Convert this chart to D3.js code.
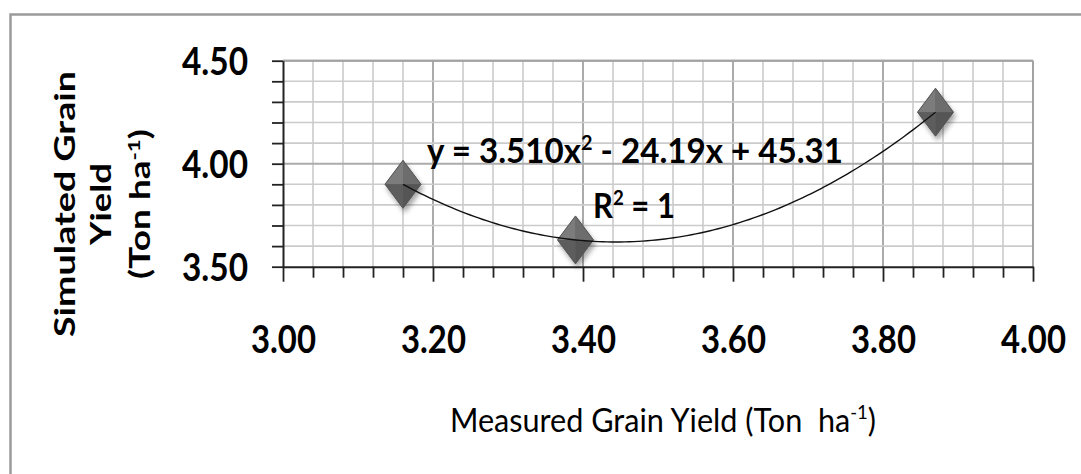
<!DOCTYPE html>
<html>
<head>
<meta charset="utf-8">
<script src="https://cdn.jsdelivr.net/npm/d3@7"></script>
<style>
  html, body { margin: 0; padding: 0; background: #fff; }
  svg { display: block; }
  text { font-family: Lato, "Open Sans", "Noto Sans", sans-serif; fill: #000; }
</style>
</head>
<body>
<svg id="chart" width="1081" height="474"></svg>
<script>
// ---- data ----
const measured = [3.16, 3.39, 3.87];          // x: Measured Grain Yield
const simulated = [3.90, 3.63, 4.25];         // y: Simulated Grain Yield
const xTicks = [3.0, 3.2, 3.4, 3.6, 3.8, 4.0];
const xTickLabels = ["3.00", "3.20", "3.40", "3.60", "3.80", "4.00"];
const yTicks = [3.5, 4.0, 4.5];
const yTickLabels = ["3.50", "4.00", "4.50"];
const xMinorStep = 0.04;
const yMinorStep = 0.1;
const equationText = ["y = 3.510x", "2", " - 24.19x + 45.31"];
const r2Text = ["R", "2", " = 1"];
const xTitle = ["Measured Grain Yield (Ton \u00a0ha", "-1", ")"];
const yTitleLines = ["Simulated Grain", "Yield", "(Ton ha"];

// ---- layout ----
const svg = d3.select("#chart");
const x = d3.scaleLinear().domain([3.0, 4.0]).range([283, 1033]);
const y = d3.scaleLinear().domain([3.5, 4.5]).range([266.7, 60.7]);
const [x0, x1] = x.range();
const [yb, yt] = y.range();

const defs = svg.append("defs");
const flt = defs.append("filter").attr("id", "shadow")
  .attr("x", "-50%").attr("y", "-50%").attr("width", "200%").attr("height", "200%");
flt.append("feDropShadow").attr("dx", 2).attr("dy", 4).attr("stdDeviation", 2.5)
  .attr("flood-color", "#000").attr("flood-opacity", 0.35);

// outer chart border (cropped on right / bottom)
svg.append("rect").attr("x", 10.5).attr("y", 14.5).attr("width", 1100).attr("height", 500)
  .attr("fill", "none").attr("stroke", "#9a9a9a").attr("stroke-width", 2.5);

// gridlines
const xMinor = d3.range(0, 26).map(i => +(3.0 + i * xMinorStep).toFixed(2));
const yMinor = d3.range(0, 11).map(i => +(3.5 + i * yMinorStep).toFixed(2));
const isMajorX = v => xTicks.some(t => Math.abs(t - v) < 1e-6);
const isMajorY = v => yTicks.some(t => Math.abs(t - v) < 1e-6);

const grid = svg.append("g");
grid.selectAll("line.gx").data(xMinor.filter(v => v > 3.0)).join("line")
  .attr("x1", d => x(d)).attr("x2", d => x(d)).attr("y1", yt).attr("y2", yb)
  .attr("stroke", d => isMajorX(d) ? "#ababab" : "#cbcbcb")
  .attr("stroke-width", d => isMajorX(d) ? 2 : 1.6);
grid.selectAll("line.gy").data(yMinor.filter(v => v > 3.5)).join("line")
  .attr("x1", x0).attr("x2", x1).attr("y1", d => y(d)).attr("y2", d => y(d))
  .attr("stroke", d => isMajorY(d) ? "#ababab" : "#cbcbcb")
  .attr("stroke-width", d => isMajorY(d) ? 2 : 1.6);
// plot area top / right border
grid.append("line").attr("x1", x0).attr("x2", x1).attr("y1", yt).attr("y2", yt)
  .attr("stroke", "#a3a3a3").attr("stroke-width", 2);
grid.append("line").attr("x1", x1).attr("x2", x1).attr("y1", yt).attr("y2", yb)
  .attr("stroke", "#a3a3a3").attr("stroke-width", 2);

// axes lines and ticks
const yAxisTicks = d3.axisLeft(y).tickValues(yMinor).tickSize(11).tickFormat("").tickSizeOuter(0);
const gY = svg.append("g").attr("transform", `translate(${x0},0)`).call(yAxisTicks);
gY.select(".domain").attr("stroke", "#222").attr("stroke-width", 2);
gY.selectAll(".tick line").attr("stroke", "#222").attr("stroke-width", 1.8);

const xAxisTicks = d3.axisBottom(x).tickValues(xMinor).tickSize(11).tickFormat("").tickSizeOuter(0);
const gX = svg.append("g").attr("transform", `translate(0,${yb})`).call(xAxisTicks);
gX.select(".domain").attr("stroke", "#222").attr("stroke-width", 2);
gX.selectAll(".tick line").attr("stroke", "#222").attr("stroke-width", 1.8)
  .attr("y2", d => isMajorX(d) ? 15 : 11);

// tick labels
const yLab = d3.axisLeft(y).tickValues(yTicks).tickSize(0).tickPadding(35)
  .tickFormat((d, i) => yTickLabels[i]);
const gYL = svg.append("g").attr("transform", `translate(${x0},0)`).call(yLab);
gYL.select(".domain").remove();
gYL.selectAll("text").attr("font-size", 39).attr("font-weight", "bold")
  .attr("font-family", "Lato, sans-serif").attr("fill", "#000")
  .attr("textLength", 66).attr("lengthAdjust", "spacingAndGlyphs").attr("dy", "0.36em");

const xLab = d3.axisBottom(x).tickValues(xTicks).tickSize(0).tickPadding(59)
  .tickFormat((d, i) => xTickLabels[i]);
const gXL = svg.append("g").attr("transform", `translate(0,${yb})`).call(xLab);
gXL.select(".domain").remove();
gXL.selectAll("text").attr("font-size", 39).attr("font-weight", "bold")
  .attr("font-family", "Lato, sans-serif").attr("fill", "#000")
  .attr("textLength", 65).attr("lengthAdjust", "spacingAndGlyphs");

// trendline: quadratic through the points (Lagrange form)
function quad(xx) {
  let s = 0;
  for (let i = 0; i < measured.length; i++) {
    let t = simulated[i];
    for (let j = 0; j < measured.length; j++) {
      if (j !== i) t *= (xx - measured[j]) / (measured[i] - measured[j]);
    }
    s += t;
  }
  return s;
}
const xs = d3.range(0, 121).map(i => d3.min(measured) + i * (d3.max(measured) - d3.min(measured)) / 120);

// markers
const hw = 18, hh = 24;
const mk = svg.append("g").selectAll("g").data(measured).join("g")
  .attr("transform", (d, i) => `translate(${x(d)},${y(simulated[i])})`)
  .attr("filter", "url(#shadow)");
mk.append("path").attr("d", `M0,${-hh}L${hw},0L0,${hh}L${-hw},0Z`).attr("fill", "#666");
mk.append("path").attr("d", `M0,${-hh}L${-hw},0L0,0Z`).attr("fill", "#7c7c7c");
mk.append("path").attr("d", `M0,${-hh}L${hw},0L0,0Z`).attr("fill", "#6d6d6d");
mk.append("path").attr("d", `M${-hw},0L0,${hh}L0,0Z`).attr("fill", "#5d5d5d");
mk.append("path").attr("d", `M${hw},0L0,${hh}L0,0Z`).attr("fill", "#545454");
mk.append("path").attr("d", `M0,${-hh}L${hw},0L0,${hh}L${-hw},0Z`)
  .attr("fill", "none").attr("stroke", "#555").attr("stroke-width", 1);

svg.append("path").datum(xs)
  .attr("d", d3.line().x(d => x(d)).y(d => y(quad(d))).curve(d3.curveLinear))
  .attr("fill", "none").attr("stroke", "#111").attr("stroke-width", 1.4);

// equation labels
const eq = svg.append("text").attr("x", 427).attr("y", 163)
  .attr("font-size", 35).attr("font-weight", "bold")
  .attr("textLength", 416).attr("lengthAdjust", "spacingAndGlyphs");
eq.append("tspan").text(equationText[0]);
eq.append("tspan").attr("font-size", 21).attr("dy", -13).text(equationText[1]);
eq.append("tspan").attr("dy", 13).text(equationText[2]);

const r2 = svg.append("text").attr("x", 593).attr("y", 218)
  .attr("font-size", 35).attr("font-weight", "bold")
  .attr("textLength", 82).attr("lengthAdjust", "spacingAndGlyphs");
r2.append("tspan").text(r2Text[0]);
r2.append("tspan").attr("font-size", 21).attr("dy", -13).text(r2Text[1]);
r2.append("tspan").attr("dy", 13).text(r2Text[2]);

// x title
const xt = svg.append("text").attr("x", 450).attr("y", 432)
  .attr("font-size", 33).attr("textLength", 426).attr("lengthAdjust", "spacingAndGlyphs");
xt.append("tspan").text(xTitle[0]);
xt.append("tspan").attr("font-size", 20).attr("dy", -13).text(xTitle[1]);
xt.append("tspan").attr("dy", 13).text(xTitle[2]);

// y title (three rotated lines)
const yTitleBase = [75, 111, 150];
const yTitleLen = [266, 82, 150];
yTitleLines.forEach((ln, i) => {
  const t = svg.append("text")
    .attr("transform", `translate(${yTitleBase[i]},204) rotate(-90)`)
    .attr("text-anchor", "middle").attr("font-size", 28).attr("font-weight", "bold")
    .attr("textLength", yTitleLen[i]).attr("lengthAdjust", "spacingAndGlyphs");
  t.append("tspan").text(ln);
  if (i === 2) {
    t.append("tspan").attr("font-size", 17).attr("dy", -10).text("-1");
    t.append("tspan").attr("dy", 10).text(")");
  }
});
</script>
</body>
</html>
